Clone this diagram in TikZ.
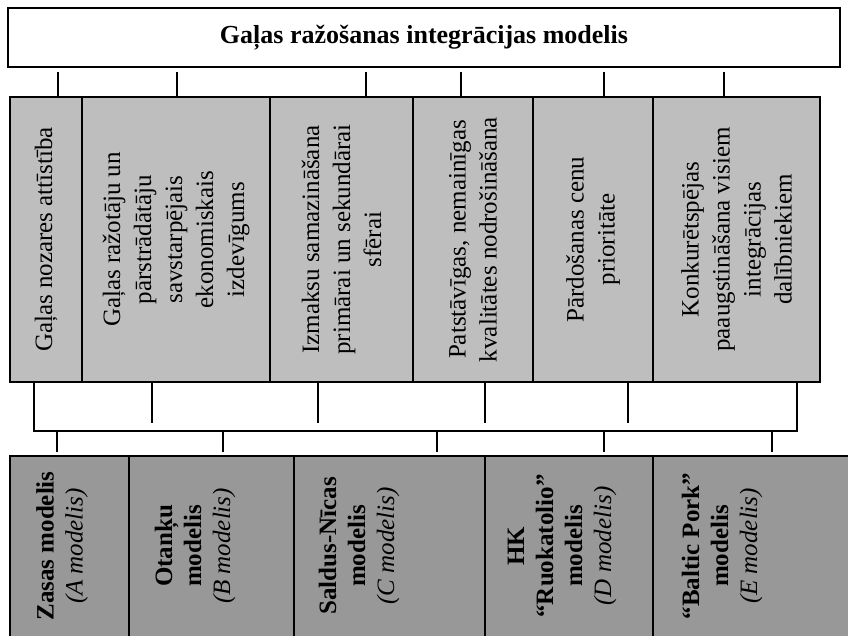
\documentclass[tikz,border=0pt]{standalone}
\usepackage{fontspec}
\setmainfont{Liberation Serif}
\definecolor{cellgray}{RGB}{190,190,190}
\definecolor{modelgray}{RGB}{152,152,152}
\tikzset{
  cell/.style={draw, fill=cellgray, rotate=90, align=center, inner sep=0pt,
    minimum width=285pt, font=\fontsize{25}{31}\selectfont},
  model/.style={draw, fill=modelgray, inner sep=0pt, minimum height=194pt},
  modeltext/.style={rotate=90, align=center, font=\fontsize{25}{29}\selectfont\bfseries},
}
\begin{document}
\begin{tikzpicture}[x=1pt, y=-1pt, line width=1.3pt]

        \useasboundingbox (0,0) rectangle (848,636);
        \clip (0,0) rectangle (848,636);

        \node[draw, minimum width=832pt, minimum height=59pt,
          font=\fontsize{26}{31}\selectfont\bfseries] (0) at (424,37.5)
          {Gaļas ražošanas integrācijas modelis};

        % middle row
        \node[cell, minimum height=72pt]  (1) at (46,239.5)  {Gaļas nozares attīstība};
        \node[cell, minimum height=188pt] (2) at (176,239.5) {Gaļas ražotāju un\\ pārstrādātāju\\ savstarpējais\\ ekonomiskais\\ izdevīgums};
        \node[cell, minimum height=143pt] (3) at (341.5,239.5) {Izmaksu samazināšana\\ primārai un sekundārai\\ sfērai};
        \node[cell, minimum height=120pt] (4) at (473,239.5) {Patstāvīgas, nemainīgas\\ kvalitātes nodrošināšana};
        \node[cell, minimum height=120pt] (5) at (593,239.5) {Pārdošanas cenu\\ prioritāte};
        \node[cell, minimum height=167pt] (6) at (736.5,239.5) {Konkurētspējas\\ paaugstināšana visiem\\ integrācijas\\ dalībniekiem};

        % bottom row
        \node[model, minimum width=119pt] (7)  at (69.5,553)  {};
        \node[model, minimum width=165pt] (8)  at (211.5,553) {};
        \node[model, minimum width=191pt] (9)  at (389.5,553) {};
        \node[model, minimum width=168pt] (10) at (569,553)   {};
        \node[model, minimum width=217pt] (11) at (761.5,553) {};

        \node[modeltext] (A) at (62,546)  {Zasas modelis\\ \textmd{\textit{(A modelis)}}};
        \node[modeltext] (B) at (195,546) {Otanķu\\ modelis\\ \textmd{\textit{(B modelis)}}};
        \node[modeltext] (C) at (359,546) {Saldus-Nīcas\\ modelis\\ \textmd{\textit{(C modelis)}}};
        \node[modeltext] (D) at (562,546) {HK\\ “Ruokatolio”\\ modelis\\ \textmd{\textit{(D modelis)}}};
        \node[modeltext] (E) at (722,546) {“Baltic Pork”\\ modelis\\ \textmd{\textit{(E modelis)}}};

        \coordinate (t1) at (58,72);
        \coordinate (t2) at (177,72);
        \coordinate (t3) at (366,72);
        \coordinate (t4) at (461,72);
        \coordinate (t5) at (604,72);
        \coordinate (t6) at (724,72);
        \coordinate (u2) at (152,423);
        \coordinate (u3) at (318,423);
        \coordinate (u4) at (485,423);
        \coordinate (u5) at (628,423);
        \coordinate (bl) at (34,431);
        \coordinate (br) at (797,431);
        \coordinate (l7)  at (57,452);
        \coordinate (l8)  at (223,452);
        \coordinate (l9)  at (437,452);
        \coordinate (l10) at (604,452);
        \coordinate (l11) at (772,452);

        \begin{scope}[every edge/.style={draw}]
          \path (t1) edge (t1 |- 1.east);
          \path (t2) edge (t2 |- 2.east);
          \path (t3) edge (t3 |- 3.east);
          \path (t4) edge (t4 |- 4.east);
          \path (t5) edge (t5 |- 5.east);
          \path (t6) edge (t6 |- 6.east);
          \path (u2 |- 2.west) edge (u2);
          \path (u3 |- 3.west) edge (u3);
          \path (u4 |- 4.west) edge (u4);
          \path (u5 |- 5.west) edge (u5);
          \draw (bl |- 1.west) -- (bl) -- (br) -- (br |- 6.west);
          \path (l7 |- bl)  edge (l7);
          \path (l8 |- bl)  edge (l8);
          \path (l9 |- bl)  edge (l9);
          \path (l10 |- bl) edge (l10);
          \path (l11 |- bl) edge (l11);
        \end{scope}

      \end{tikzpicture}
\end{document}
